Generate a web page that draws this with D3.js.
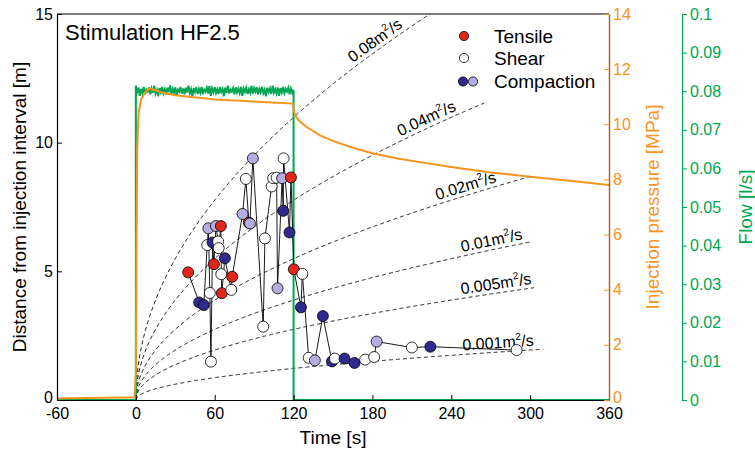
<!DOCTYPE html>
<html>
<head>
<meta charset="utf-8">
<script src="https://cdn.jsdelivr.net/npm/d3@7"></script>
<style>
  body { margin: 0; background: #fff; }
  svg { font-family: "Liberation Sans", Arial, sans-serif; }
</style>
</head>
<body>
<svg id="chart" width="755" height="450"></svg>
<script>
// ---- data ----
const timeTicks = [-60, 0, 60, 120, 180, 240, 300, 360];
const distTicks = [0, 5, 10, 15];
const pressTicks = [0, 2, 4, 6, 8, 10, 12, 14];
const flowTicks = [0, 0.01, 0.02, 0.03, 0.04, 0.05, 0.06, 0.07, 0.08, 0.09, 0.1];

// seismic events: time [s], distance [m], type
const eventTime = [39.8, 48.2, 51.7, 54.3, 55.2, 56.3, 57.1, 58.4, 59.4, 60.9, 62.6, 63.0, 64.7, 65.0, 65.4, 67.7,
  72.6, 73.3, 81.2, 83.7, 86.0, 86.8, 89.0, 96.9, 98.2, 103.3, 104.5, 107.1, 107.8, 111.3, 112.1, 112.4, 116.9,
  118.0, 120.2, 125.6, 126.7, 131.5, 136.2, 142.3, 149.2, 151.4, 158.8, 166.4, 174.5, 181.3, 183.2, 210.0, 224.1, 289.7];
const eventDist = [4.96, 3.79, 3.69, 6.02, 6.67, 4.16, 1.49, 6.12, 5.28, 6.76, 6.16, 5.90, 6.76, 4.89, 4.15, 5.51,
  4.28, 4.79, 7.23, 8.59, 6.89, 6.86, 9.39, 2.85, 6.28, 8.30, 8.62, 8.64, 4.34, 8.62, 7.35, 9.39, 6.51,
  8.65, 5.08, 3.60, 4.90, 1.64, 1.54, 3.26, 1.50, 1.61, 1.61, 1.44, 1.57, 1.67, 2.27, 2.04, 2.07, 1.94];
const eventType = ["T", "Cd", "Cd", "S", "Cl", "S", "S", "Cd", "T", "Cl", "S", "S", "T", "S", "T", "Cd",
  "S", "T", "Cl", "S", "T", "Cl", "Cl", "S", "S", "S", "S", "S", "Cl", "Cl", "Cd", "S", "Cd",
  "T", "T", "Cd", "S", "S", "Cl", "Cd", "Cd", "S", "Cd", "Cd", "S", "S", "Cl", "S", "Cd", "S"];

// injection pressure [MPa]
const pressTime = [-60, -1, 0, 0.5, 1, 2, 4, 7, 10, 14, 20, 30, 40, 50, 60, 80, 100, 119.5, 120.3, 121, 123, 126,
  130, 140, 150, 165, 180, 200, 220, 240, 270, 300, 330, 360];
const pressValue = [0.05, 0.1, 1.0, 5.5, 9.0, 10.4, 10.9, 11.15, 11.3, 11.25, 11.15, 11.05, 11.0, 10.95, 10.9,
  10.85, 10.8, 10.75, 10.5, 10.35, 10.2, 10.05, 9.9, 9.6, 9.4, 9.15, 8.95, 8.75, 8.6, 8.45, 8.25, 8.1, 7.95, 7.8];

// flow [l/s], one reading per second from t = 0 to 120
const flowValue = [0.0814, 0.0798, 0.0809, 0.0788, 0.0806, 0.0795, 0.0811, 0.0793, 0.0804, 0.0799,
  0.0810, 0.0792, 0.0807, 0.0796, 0.0814, 0.0794, 0.0803, 0.0787, 0.0808, 0.0797,
  0.0811, 0.0795, 0.0805, 0.0792, 0.0809, 0.0798, 0.0815, 0.0793, 0.0806, 0.0796,
  0.0810, 0.0788, 0.0804, 0.0799, 0.0811, 0.0794, 0.0807, 0.0792, 0.0809, 0.0797,
  0.0814, 0.0795, 0.0805, 0.0787, 0.0808, 0.0798, 0.0810, 0.0793, 0.0806, 0.0796,
  0.0811, 0.0792, 0.0804, 0.0799, 0.0809, 0.0794, 0.0814, 0.0788, 0.0807, 0.0797,
  0.0810, 0.0795, 0.0805, 0.0793, 0.0811, 0.0798, 0.0806, 0.0787, 0.0809, 0.0796,
  0.0814, 0.0794, 0.0804, 0.0799, 0.0808, 0.0792, 0.0810, 0.0797, 0.0806, 0.0795,
  0.0811, 0.0788, 0.0807, 0.0798, 0.0809, 0.0793, 0.0805, 0.0796, 0.0814, 0.0794,
  0.0808, 0.0799, 0.0810, 0.0792, 0.0806, 0.0797, 0.0811, 0.0795, 0.0804, 0.0787,
  0.0809, 0.0798, 0.0807, 0.0793, 0.0814, 0.0796, 0.0805, 0.0794, 0.0810, 0.0788,
  0.0808, 0.0797, 0.0811, 0.0795, 0.0806, 0.0799, 0.0809, 0.0792, 0.0807, 0.0796,
  0.0803];

// diffusivity curves r = sqrt(4 pi D t)
const diffusivity = [0.08, 0.04, 0.02, 0.01, 0.005, 0.001];
const diffLabel = ["0.08", "0.04", "0.02", "0.01", "0.005", "0.001"];
const diffEndTime = [300, 265, 300, 300, 303, 310];
const diffLabelTime = [186, 224, 253, 272, 275, 276];

// ---- setup ----
const orange = "#f7941d", green = "#00a651";
const colors = { T: "#e3261d", S: "#ffffff", Cd: "#312a8e", Cl: "#b4ade2" };

const svg = d3.select("#chart");
const x = d3.scaleLinear([-60, 360], [57, 609]);
const y = d3.scaleLinear([0, 15], [400, 14]);
const yP = d3.scaleLinear([0, 14], [400, 14]);
const yF = d3.scaleLinear([0, 0.1], [400, 14]);

svg.append("clipPath").attr("id", "plot")
  .append("rect").attr("x", 57).attr("y", 14).attr("width", 552).attr("height", 386);

const plot = svg.append("g").attr("clip-path", "url(#plot)");

// dashed diffusion curves
diffusivity.forEach((D, i) => {
  const pts = d3.range(0, diffEndTime[i] + 0.1, 0.5).map(t => [t, Math.sqrt(4 * Math.PI * D * t)]);
  plot.append("path")
    .attr("d", d3.line(d => x(d[0]), d => y(d[1]))(pts))
    .attr("fill", "none").attr("stroke", "#000").attr("stroke-width", 0.9)
    .attr("stroke-dasharray", "4,3");

  const tl = diffLabelTime[i];
  const r = t => Math.sqrt(4 * Math.PI * D * t);
  const ang = Math.atan2(y(r(tl + 5)) - y(r(tl - 5)), x(tl + 5) - x(tl - 5)) * 180 / Math.PI;
  const lbl = svg.append("text")
    .attr("transform", `translate(${x(tl)},${y(r(tl))}) rotate(${ang})`)
    .attr("y", -4)
    .attr("text-anchor", "middle")
    .attr("font-size", 16);
  lbl.append("tspan").text(diffLabel[i] + "m");
  lbl.append("tspan").attr("font-size", 10).attr("dy", -7).text("2");
  lbl.append("tspan").attr("dy", 7).text("/s");
});

// flow
const flowPts = [[-60, 0], [0, 0]]
  .concat(flowValue.map((v, i) => [i, v]))
  .concat([[120, 0], [360, 0]]);
plot.append("path")
  .attr("d", d3.line(d => x(d[0]), d => yF(d[1]))(flowPts))
  .attr("fill", "none").attr("stroke", green).attr("stroke-width", 2);

// pressure
plot.append("path")
  .attr("d", d3.line((d, i) => x(pressTime[i]), d => yP(d))(pressValue))
  .attr("fill", "none").attr("stroke", orange).attr("stroke-width", 2);

// events
const events = eventTime.map((t, i) => ({ t, r: eventDist[i], type: eventType[i] }));
svg.append("path")
  .attr("d", d3.line(d => x(d.t), d => y(d.r))(events))
  .attr("fill", "none").attr("stroke", "#000").attr("stroke-width", 0.9);
svg.append("g").selectAll("circle")
  .data(events)
  .join("circle")
  .attr("cx", d => x(d.t)).attr("cy", d => y(d.r)).attr("r", 5.5)
  .attr("fill", d => colors[d.type]).attr("stroke", "#000").attr("stroke-width", 0.8);

// ---- axes ----
svg.append("line").attr("x1", 57).attr("x2", 609).attr("y1", 14).attr("y2", 14)
  .attr("stroke", "#000").attr("stroke-width", 1.2);

const plain = d => String(d);
const gx = svg.append("g").attr("transform", "translate(0,400)")
  .call(d3.axisBottom(x).tickValues(timeTicks).tickSize(-5).tickSizeOuter(0).tickPadding(8).tickFormat(plain));
const gy = svg.append("g").attr("transform", "translate(57,0)")
  .call(d3.axisLeft(y).tickValues(distTicks).tickSize(-5).tickSizeOuter(0).tickPadding(4).tickFormat(plain));
[gx, gy].forEach(g => {
  g.selectAll("text").attr("font-size", 16).attr("fill", "#000").attr("font-family", null);
  g.select(".domain").attr("stroke-width", 1.2);
});

const gp = svg.append("g").attr("transform", "translate(609,0)")
  .call(d3.axisRight(yP).tickValues(pressTicks).tickSize(-5).tickSizeOuter(0).tickPadding(4).tickFormat(plain));
gp.select(".domain").attr("stroke", "#a85e1c").attr("stroke-width", 1.4);
gp.selectAll(".tick line").attr("stroke", orange);
gp.selectAll("text").attr("font-size", 16).attr("fill", orange).attr("font-family", null);

// the zero labels sit right above the corner time labels; lift them a touch
[gy, gp].forEach(g => g.selectAll(".tick").filter(d => d === 0).select("text").attr("y", -3));

const gf = svg.append("g").attr("transform", "translate(682,0)")
  .call(d3.axisRight(yF).tickValues(flowTicks).tickSize(5).tickSizeOuter(5).tickPadding(3)
    .tickFormat(d => d === 0 ? "0" : d3.format(".2~f")(d)));
gf.select(".domain").attr("stroke", green).attr("stroke-width", 1.2);
gf.selectAll(".tick line").attr("stroke", green);
gf.selectAll("text").attr("font-size", 16).attr("fill", green).attr("font-family", null);

// axis titles
svg.append("text").attr("x", 333).attr("y", 444).attr("text-anchor", "middle")
  .attr("font-size", 19).text("Time [s]");
svg.append("text").attr("transform", "translate(19,207) rotate(-90)").attr("dy", "0.35em")
  .attr("text-anchor", "middle").attr("font-size", 19).text("Distance from injection interval [m]");
svg.append("text").attr("transform", "translate(652,207) rotate(-90)").attr("dy", "0.35em")
  .attr("text-anchor", "middle").attr("font-size", 19).attr("fill", orange).text("Injection pressure [MPa]");
svg.append("text").attr("transform", "translate(745,207) rotate(-90)").attr("dy", "0.35em")
  .attr("text-anchor", "middle").attr("font-size", 19).attr("fill", green).text("Flow [l/s]");

// title
svg.append("text").attr("x", 65).attr("y", 40).attr("font-size", 22).text("Stimulation HF2.5");

// legend
const legend = svg.append("g");
[[464, 36, "T"], [464, 58, "S"], [463, 81.5, "Cd"], [473, 81.5, "Cl"]].forEach(([cx, cy, k]) => {
  legend.append("circle").attr("cx", cx).attr("cy", cy).attr("r", 4.6)
    .attr("fill", colors[k]).attr("stroke", "#000").attr("stroke-width", 0.8);
});
[["Tensile", 36], ["Shear", 58], ["Compaction", 81.5]].forEach(([t, cy]) => {
  legend.append("text").attr("x", 494).attr("y", cy).attr("dy", "0.35em")
    .attr("font-size", 19).text(t);
});
</script>
</body>
</html>
